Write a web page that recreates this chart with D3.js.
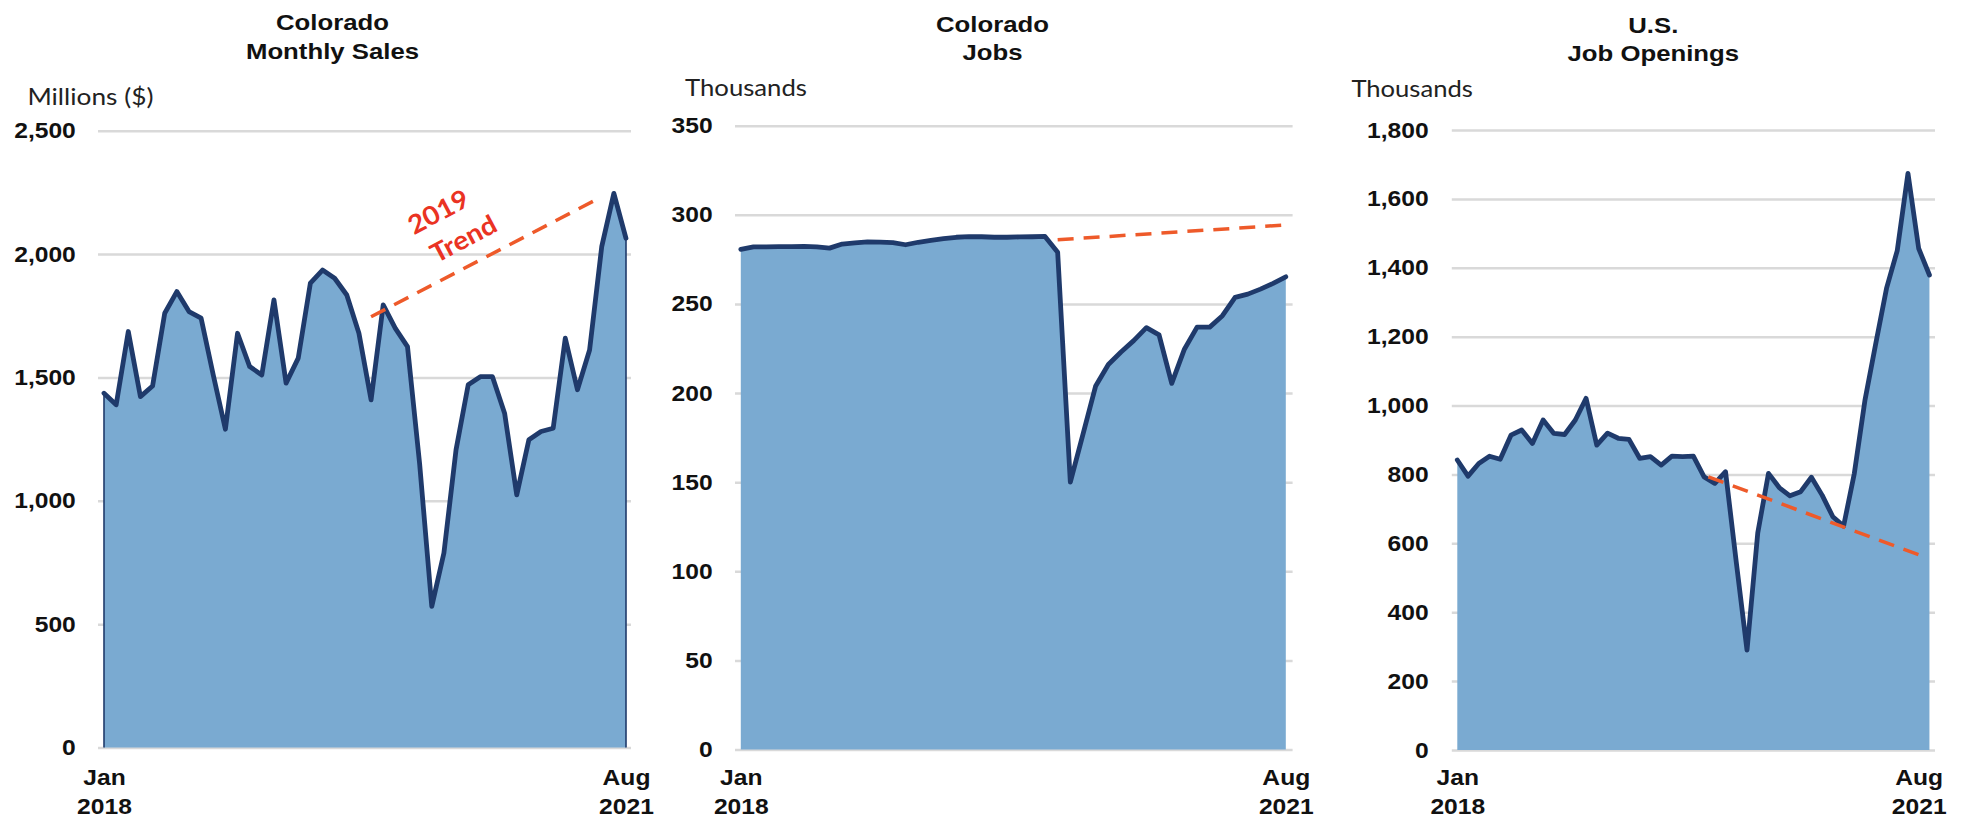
<!DOCTYPE html>
<html>
<head>
<meta charset="utf-8">
<script src="https://cdn.jsdelivr.net/npm/d3@7"></script>
<style>
  html, body { margin: 0; padding: 0; background: #ffffff; }
  svg { display: block; }
</style>
</head>
<body>
<svg id="chart" width="1961" height="820"></svg>
<script>
// ---------------- DATA ----------------
const xTickIndex = [0, 43];
const xTickLabels = [["Jan", "2018"], ["Aug", "2021"]];

const salesTitle = ["Colorado", "Monthly Sales"];
const salesUnit = "Millions ($)";
const salesTicks = [0, 500, 1000, 1500, 2000, 2500];
const salesValues = [1436, 1389, 1686, 1422, 1465, 1760, 1848, 1767, 1740, 1510,
                     1290, 1679, 1544, 1510, 1814, 1477, 1578, 1882, 1935, 1902,
                     1834, 1679, 1409, 1794, 1699, 1625, 1150, 572, 788, 1207,
                     1470, 1503, 1503, 1355, 1024, 1247, 1281, 1294, 1659, 1450,
                     1611, 2030, 2246, 2064];
const salesTrend = [{ i: 22, v: 1746 }, { i: 41, v: 2232 }];
const salesTrendLabel = ["2019", "Trend"];

const jobsTitle = ["Colorado", "Jobs"];
const jobsUnit = "Thousands";
const jobsTicks = [0, 50, 100, 150, 200, 250, 300, 350];
const jobsValues = [280.6, 282.0, 282.0, 282.1, 282.2, 282.3, 282.0, 281.3, 283.6, 284.2,
                    284.8, 284.7, 284.4, 283.2, 284.6, 285.6, 286.6, 287.4, 287.8, 287.7,
                    287.4, 287.4, 287.6, 287.7, 287.9, 279.0, 150.0, 177, 204, 216,
                    223, 229.4, 236.7, 232.6, 205.4, 224.6, 237, 237, 243.4, 253.7,
                    255.5, 258.3, 261.5, 265.2];
const jobsTrend = [{ i: 25, v: 286 }, { i: 43, v: 294.3 }];

const openingsTitle = ["U.S.", "Job Openings"];
const openingsUnit = "Thousands";
const openingsTicks = [0, 200, 400, 600, 800, 1000, 1200, 1400, 1600, 1800];
const openingsValues = [842, 795, 832, 853, 844, 914, 929, 890, 958, 919,
                        916, 958, 1021, 885, 920, 905, 902, 847, 852, 827,
                        853, 852, 853, 793, 774, 808, 545, 290, 630, 803,
                        762, 738, 750, 792, 740, 677, 650, 803, 1017, 1180,
                        1340, 1450, 1674, 1456, 1379];
const openingsTrend = [{ i: 23.4, v: 793 }, { i: 43.5, v: 561 }];

// ---------------- STYLE / LAYOUT ----------------
const FILL = "#7aaad1";
const LINE = "#1f3a6b";
const GRID = "#d9d9d9";
const TREND = "#ee5a2a";
const TREND_TEXT = "#ea3323";
const SX = 1.12; // horizontal stretch of text in the reference
const BOLD = "'Liberation Sans', Arial, sans-serif";

const panels = [
  { title: salesTitle, unit: salesUnit, ticks: salesTicks, values: salesValues, trend: salesTrend, edges: true,
    xr: [104, 626], yr: [747.5, 130.7], grid: [98, 631], pad: 22.2,
    titleX: 332.5, titleY: [30, 59], unitX: 27.4, unitY: 105, unitW: 126 },
  { title: jobsTitle, unit: jobsUnit, ticks: jobsTicks, values: jobsValues, trend: jobsTrend, edges: false,
    xr: [740.8, 1285.8], yr: [749.5, 125.7], grid: [735, 1292.6], pad: 22.4,
    titleX: 992.5, titleY: [31.5, 60], unitX: 685, unitY: 96, unitW: 122 },
  { title: openingsTitle, unit: openingsUnit, ticks: openingsTicks, values: openingsValues, trend: openingsTrend, edges: false,
    xr: [1457.3, 1918.7], yr: [750, 130], grid: [1451.8, 1935], pad: 23.2,
    titleX: 1653.3, titleY: [33, 61], unitX: 1351.4, unitY: 97, unitW: 121.5 }
];

const svg = d3.select("#chart");

function stretchedText(g, x, y, txt, opts) {
  const t = g.append("text")
    .attr("transform", `translate(${x},${y}) scale(${SX},1)`)
    .attr("text-anchor", opts.anchor || "start")
    .attr("font-family", opts.family || BOLD)
    .attr("font-weight", opts.weight || "bold")
    .attr("font-size", opts.size || 22)
    .attr("fill", opts.fill || "#111")
    .text(txt);
  return t;
}

panels.forEach(p => {
  const g = svg.append("g");
  const maxV = p.ticks[p.ticks.length - 1];
  const x = d3.scaleLinear().domain([0, 43]).range(p.xr);
  const y = d3.scaleLinear().domain([0, maxV]).range(p.yr);

  // y axis with gridlines
  const yAxis = d3.axisLeft(y)
    .tickValues(p.ticks)
    .tickFormat(d3.format(","))
    .tickSize(-(p.grid[1] - p.grid[0]))
    .tickPadding(p.pad);
  const ag = g.append("g")
    .attr("transform", `translate(${p.grid[0]},0)`)
    .call(yAxis);
  ag.select(".domain").remove();
  ag.selectAll(".tick line").attr("stroke", GRID).attr("stroke-width", 2.5);
  ag.selectAll(".tick text")
    .attr("font-family", BOLD)
    .attr("font-weight", "bold")
    .attr("font-size", 22)
    .attr("fill", "#111")
    .each(function () {
      const t = d3.select(this);
      t.attr("x", (+t.attr("x")) / SX).attr("transform", `scale(${SX},1)`);
    });

  // area + line
  const pts = p.values.map((v, i) => ({ i, v }));
  const area = d3.area().x(d => x(d.i)).y0(y(0)).y1(d => y(d.v));
  const line = d3.line().x(d => x(d.i)).y(d => y(d.v));
  g.append("path").datum(pts).attr("d", area).attr("fill", FILL);
  if (p.edges) {
    [pts[0], pts[pts.length - 1]].forEach(d => {
      g.append("path")
        .datum([{ i: d.i, v: 0 }, d])
        .attr("d", line)
        .attr("stroke", LINE).attr("stroke-width", 1.6).attr("fill", "none");
    });
  }
  g.append("path").datum(pts).attr("d", line)
    .attr("fill", "none").attr("stroke", LINE)
    .attr("stroke-width", 4.8).attr("stroke-linejoin", "round").attr("stroke-linecap", "round");

  // trend
  g.append("path").datum(p.trend).attr("d", line)
    .attr("fill", "none").attr("stroke", TREND)
    .attr("stroke-width", 3.5).attr("stroke-dasharray", "16,10");

  // x axis labels
  const xAxis = d3.axisBottom(x).tickValues(xTickIndex).tickSize(0).tickFormat(() => "");
  const xg = g.append("g").attr("transform", `translate(0,${y(0)})`).call(xAxis);
  xg.select(".domain").remove();
  xg.selectAll(".tick").each(function (d, k) {
    const tk = d3.select(this);
    const lines = xTickLabels[k];
    lines.forEach((s, j) => {
      stretchedText(tk, 0, (785 - y(0)) + j * 29, s, { anchor: "middle", size: 22 });
    });
  });

  // titles
  p.title.forEach((s, j) => {
    stretchedText(g, p.titleX, p.titleY[j], s, { anchor: "middle", size: 23 });
  });

  // unit label
  g.append("text")
    .attr("x", p.unitX).attr("y", p.unitY)
    .attr("font-family", "Lato, 'Open Sans', sans-serif")
    .attr("font-size", 23)
    .attr("fill", "#222")
    .attr("textLength", p.unitW)
    .attr("lengthAdjust", "spacingAndGlyphs")
    .text(p.unit);

  // trend label for sales
  if (p.values === salesValues) {
    const pos = [[438, 211], [463, 238]];
    salesTrendLabel.forEach((s, j) => {
      g.append("text")
        .attr("transform", `translate(${pos[j][0]},${pos[j][1]}) rotate(-28) scale(1.08,1)`)
        .attr("text-anchor", "middle")
        .attr("dominant-baseline", "central")
        .attr("font-family", "Lato, 'Open Sans', sans-serif")
        .attr("font-weight", "bold")
        .attr("font-size", 26)
        .attr("fill", TREND_TEXT)
        .text(s);
    });
  }
});
</script>
</body>
</html>
